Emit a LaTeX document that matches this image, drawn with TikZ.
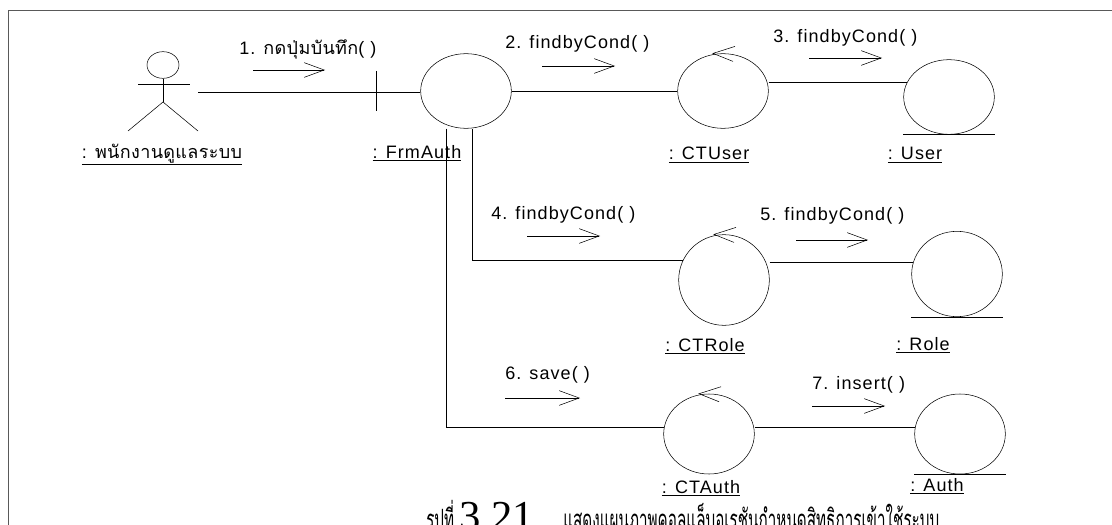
\documentclass[tikz,border=0pt]{standalone}
\usepackage{fontspec}
\setmainfont{Liberation Sans}[LetterSpace=6]
\newfontfamily\thaifont[Script=Thai, LetterSpace=2]{Loma}
\newfontfamily\capthai[Script=Thai, FakeStretch=0.52]{Loma}
\newfontfamily\capfont{Liberation Serif}
\usetikzlibrary{shapes.geometric, arrows.meta, positioning}

\begin{document}
\begin{tikzpicture}[x=0.75pt, y=-0.75pt, font=\fontsize{13.5}{15}\selectfont,
    obj/.style={ellipse, draw, thin, minimum width=68pt, minimum height=56pt, inner sep=0pt},
    objlabel/.style={anchor=base, inner sep=0pt},
    msg/.style={anchor=base west, inner sep=0pt},
    line/.style={draw, thin},
    call/.style={draw, thin, -{Straight Barb[length=15pt, width=11pt]}}]
    \useasboundingbox (0,0) rectangle (1112,524);
    \clip (0,0) rectangle (1112,524);
    \draw [gray!70!black] (8,10) rectangle (1140,560);

    % actor
    \node [ellipse, draw, thin, minimum width=24pt, minimum height=20pt, inner sep=0pt] (head) at (163,65) {};
    \draw [thin] (head.south) -- (163,102) coordinate (hip);
    \draw [thin] (138,84) -- (190,84);
    \draw [thin] (128,131) -- (hip) -- (198,131);
    \coordinate (actor) at (198,92);
    \node [objlabel] (actorlbl) at (162,158) {\underline{: {\thaifont พนักงานดูแลระบบ}}};

    % objects
    \node [obj] (frm) at (466,91) {};
    \node [obj] (ctuser) at (723,91) {};
    \node [obj] (user) at (949,97) {};
    \node [obj, minimum height=68pt] (ctrole) at (724,280) {};
    \node [obj, minimum height=64pt] (role) at (957,274) {};
    \node [obj, minimum height=60pt] (ctauth) at (709,434) {};
    \node [obj, minimum height=60pt] (auth) at (960,434) {};

    \node [objlabel] at (417,158) {\underline{: FrmAuth}};
    \node [objlabel] at (709,160) {\underline{: CTUser}};
    \node [objlabel] at (915,160) {\underline{: User}};
    \node [objlabel] at (705,351) {\underline{: CTRole}};
    \node [objlabel] at (923,350) {\underline{: Role}};
    \node [objlabel] at (701,493) {\underline{: CTAuth}};
    \node [objlabel] at (937,491) {\underline{: Auth}};

    % boundary, control and entity marks
    \draw [thin] (frm.west) ++(-44,-20) -- ++(0,40);
    \foreach \n in {ctuser, ctrole, ctauth}
        \draw [thin] (\n.north) ++(12,-7) -- ++(-22,7) -- ++(20,8);
    \foreach \n in {user, role, auth}
        \draw [thin] (\n.south -| \n.west) -- (\n.south -| \n.east);

    % links
    \path [line] (actor) -- (actor -| frm.west);
    \path [line] (frm) -- (ctuser);
    \path [line] (user.160 -| ctuser.east) -- (user.160);
    \path [line] ([xshift=4.5pt]frm.south) |- (ctrole.155);
    \path [line] (role.165 -| ctrole.east) -- (role.165);
    \path [line] ([xshift=-15pt]frm.south) |- (ctauth.172);
    \path [line] (auth.172 -| ctauth.east) -- (auth.172);

    % messages
    \node [msg] (m1) at (239,55) {1. {\thaifont กดปุ่มบันทึก}( )};
    \draw [call] (253,70) -- (325,70);
    \node [msg] (m2) at (505,49) {2. findbyCond( )};
    \draw [call] (542,66) -- (615,66);
    \node [msg] (m3) at (773,43) {3. findbyCond( )};
    \draw [call] (809,58) -- (882,58);
    \node [msg] (m4) at (491,219) {4. findbyCond( )};
    \draw [call] (527,236) -- (600,236);
    \node [msg] (m5) at (760,220) {5. findbyCond( )};
    \draw [call] (796,240) -- (868,240);
    \node [msg] (m6) at (505,379) {6. save( )};
    \draw [call] (505,398) -- (580,398);
    \node [msg] (m7) at (812,389) {7. insert( )};
    \draw [call] (812,406) -- (885,406);

    % caption
    \node [anchor=base west, inner sep=0pt] (caption) at (426,530)
        {\capthai\fontsize{22}{24}\selectfont รูปที่ {\capfont\fontsize{32}{34}\selectfont 3.21}\quad แสดงแผนภาพคอลแล็บอเรชันกำหนดสิทธิการเข้าใช้ระบบ};
\end{tikzpicture}
\end{document}
